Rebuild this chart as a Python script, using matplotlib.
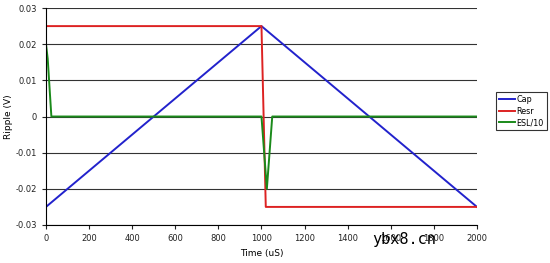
import matplotlib.pyplot as plt

# data
cap_x = [0, 1000, 2000]
cap_y = [-0.025, 0.025, -0.025]

resr_x = [0, 1000, 1020, 2000]
resr_y = [0.025, 0.025, -0.025, -0.025]

esl_x = [0, 8, 25, 1000, 1025, 1050, 2000]
esl_y = [0.02, 0.016, 0, 0, -0.02, 0, 0]

x_ticks = list(range(0, 2001, 200))
y_ticks = [-0.03, -0.02, -0.01, 0, 0.01, 0.02, 0.03]
y_labels = ["-0.03", "-0.02", "-0.01", "0", "0.01", "0.02", "0.03"]

fig = plt.figure(figsize=(5.5, 2.63), dpi=100)
ax = fig.add_axes([0.0836, 0.1445, 0.7836, 0.825])

ax.plot(cap_x, cap_y, color="#2222cc", lw=1.4, label="Cap")
ax.plot(resr_x, resr_y, color="#dd2222", lw=1.4, label="Resr")
ax.plot(esl_x, esl_y, color="#1a8a1a", lw=1.4, label="ESL/10")

ax.set_xlim(0, 2000)
ax.set_ylim(-0.03, 0.03)
ax.set_xticks(x_ticks)
ax.set_yticks(y_ticks)
ax.set_yticklabels(y_labels)
ax.tick_params(labelsize=6, length=3, direction="out", colors="#222222")
ax.yaxis.grid(True, color="#333333", lw=0.8)
ax.set_axisbelow(True)
for s in ["top", "right"]:
    ax.spines[s].set_visible(False)

ax.set_xlabel("Time (uS)", fontsize=6.5, labelpad=4)
ax.set_ylabel("Ripple (V)", fontsize=6.5, labelpad=2)

leg = ax.legend(loc="center left", bbox_to_anchor=(1.044, 0.525), fontsize=5.8,
                frameon=True, fancybox=False, edgecolor="black",
                handlelength=2.0, handletextpad=0.2, borderpad=0.35,
                labelspacing=0.3, borderaxespad=0)
leg.get_frame().set_linewidth(0.8)

fig.text(0.735, 0.09, "ybx8.cn", fontsize=11, family="DejaVu Sans Mono",
         color="black", ha="center", va="center")

fig.savefig("out.png", dpi=100)
